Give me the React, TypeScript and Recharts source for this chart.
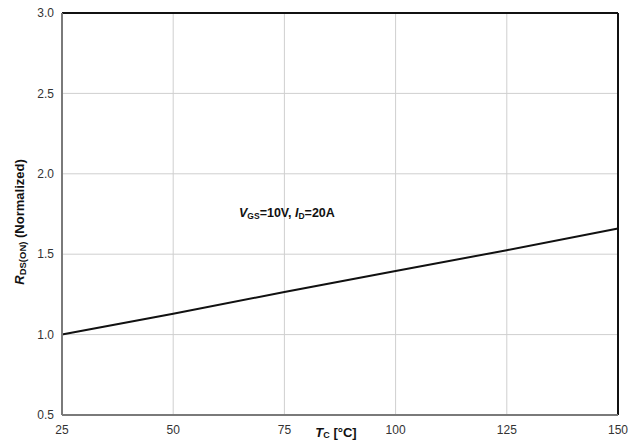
import React from 'react';
import { LineChart, Line, XAxis, YAxis, CartesianGrid, ReferenceLine, ReferenceDot } from 'recharts';

const temps = [25, 50, 75, 100, 125, 150];
const rdsOn = [1.0, 1.13, 1.265, 1.395, 1.525, 1.66];
const xTicks = [25, 50, 75, 100, 125, 150];
const yTicks = [0.5, 1.0, 1.5, 2.0, 2.5, 3.0];

const data = temps.map((t, i) => ({ t, r: rdsOn[i] }));

const FONT = '"Liberation Sans", Arial, sans-serif';

const YLabel = (props: any) => {
  const vb = props.viewBox || {};
  const cx = 19;
  const cy = (vb.y ?? 13) + (vb.height ?? 402) / 2 + 8;
  return (
    <text
      x={cx}
      y={cy}
      transform={`rotate(-90 ${cx} ${cy})`}
      textAnchor="middle"
      dominantBaseline="central"
      fontFamily={FONT}
      fontWeight="bold"
      fontSize={13}
      fill="#111"
    >
      <tspan fontStyle="italic">R</tspan>
      <tspan fontSize={9.5} dy={3}>DS(ON)</tspan>
      <tspan dy={-3}> (Normalized)</tspan>
    </text>
  );
};

const XLabel = (props: any) => {
  const vb = props.viewBox || {};
  const cx = (vb.x ?? 62) + (vb.width ?? 556) / 2 - 4;
  const y = 437;
  return (
    <text x={cx} y={y} textAnchor="middle" fontFamily={FONT} fontWeight="bold" fontSize={13} fill="#111">
      <tspan fontStyle="italic">T</tspan>
      <tspan fontSize={9} dy={1}>C</tspan>
      <tspan dy={-1}> [°C]</tspan>
    </text>
  );
};

const Annot = (props: any) => {
  const { x, y } = props.viewBox || {};
  return (
    <text x={x} y={y} dominantBaseline="central" fontFamily={FONT} fontWeight="bold" fontSize={12.5} fill="#111">
      <tspan fontStyle="italic">V</tspan>
      <tspan fontSize={8.5} dy={3}>GS</tspan>
      <tspan dy={-3}>=10V, </tspan>
      <tspan fontStyle="italic">I</tspan>
      <tspan fontSize={8.5} dy={3}>D</tspan>
      <tspan dy={-3}>=20A</tspan>
    </text>
  );
};

export default function App() {
  return (
    <div style={{ position: 'absolute', left: 0, top: 0, background: '#fff' }}>
      <LineChart width={637} height={444} data={data} margin={{ top: 13, right: 19, left: 0, bottom: 0 }}>
        <CartesianGrid stroke="#cfcfcf" strokeWidth={1} />
        <XAxis
          dataKey="t"
          type="number"
          domain={[25, 150]}
          ticks={xTicks}
          height={29}
          tickSize={0}
          tickMargin={10}
          axisLine={{ stroke: '#7a7a7a', strokeWidth: 2 }}
          tick={{ fill: '#333', fontSize: 12, fontFamily: FONT }}
          label={<XLabel />}
        />
        <YAxis
          type="number"
          domain={[0.5, 3.0]}
          ticks={yTicks}
          width={62}
          tickSize={0}
          tickMargin={8}
          axisLine={{ stroke: '#7a7a7a', strokeWidth: 2 }}
          tick={{ fill: '#333', fontSize: 12, fontFamily: FONT }}
          tickFormatter={(v: number) => v.toFixed(1)}
          label={<YLabel />}
        />
        <ReferenceLine y={3.0} stroke="#111" strokeWidth={2} />
        <ReferenceLine x={150} stroke="#111" strokeWidth={2} />
        <Line
          dataKey="r"
          type="linear"
          stroke="#111"
          strokeWidth={2}
          dot={false}
          isAnimationActive={false}
        />
        <ReferenceDot x={64.8} y={1.756} r={0} fill="none" stroke="none" label={<Annot />} />
      </LineChart>
    </div>
  );
}
